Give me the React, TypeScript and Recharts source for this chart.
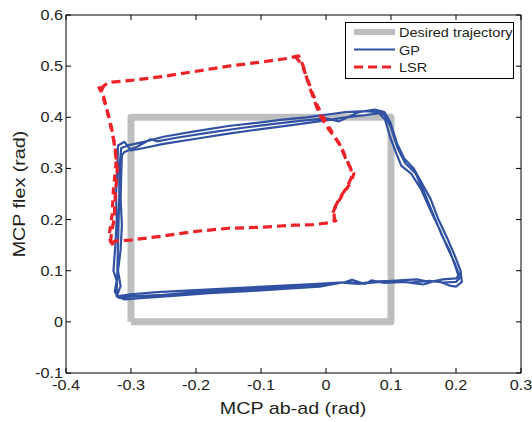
import { Legend, Line, LineChart, XAxis, YAxis } from "recharts";

type Pt = { x: number; y: number };

const xTicks = [-0.4, -0.3, -0.2, -0.1, 0, 0.1, 0.2, 0.3];
const yTicks = [-0.1, 0, 0.1, 0.2, 0.3, 0.4, 0.5, 0.6];

// desired square trajectory
const desiredPath: Pt[] = [
  { x: -0.3, y: 0 },
  { x: 0.1, y: 0 },
  { x: 0.1, y: 0.4 },
  { x: -0.3, y: 0.4 },
  { x: -0.3, y: 0 },
];

// GP loops
const gpLoop1: Pt[] = [
  { x: -0.32, y: 0.047 }, { x: -0.3, y: 0.05 }, { x: -0.25, y: 0.053 }, { x: -0.2, y: 0.058 },
  { x: -0.15, y: 0.062 }, { x: -0.1, y: 0.066 }, { x: -0.05, y: 0.07 }, { x: 0, y: 0.073 },
  { x: 0.03, y: 0.078 }, { x: 0.05, y: 0.075 }, { x: 0.08, y: 0.079 }, { x: 0.1, y: 0.08 },
  { x: 0.13, y: 0.077 }, { x: 0.16, y: 0.08 }, { x: 0.18, y: 0.077 }, { x: 0.2, y: 0.078 },
  { x: 0.205, y: 0.085 }, { x: 0.2, y: 0.105 }, { x: 0.19, y: 0.14 }, { x: 0.178, y: 0.17 },
  { x: 0.165, y: 0.21 }, { x: 0.152, y: 0.25 }, { x: 0.138, y: 0.29 }, { x: 0.122, y: 0.31 },
  { x: 0.11, y: 0.34 }, { x: 0.1, y: 0.38 }, { x: 0.09, y: 0.405 }, { x: 0.08, y: 0.41 },
  { x: 0.06, y: 0.412 }, { x: 0.03, y: 0.41 }, { x: 0, y: 0.405 }, { x: -0.03, y: 0.4 },
  { x: -0.07, y: 0.395 }, { x: -0.1, y: 0.39 }, { x: -0.15, y: 0.383 }, { x: -0.2, y: 0.373 },
  { x: -0.25, y: 0.362 }, { x: -0.28, y: 0.352 }, { x: -0.305, y: 0.345 }, { x: -0.315, y: 0.34 },
  { x: -0.318, y: 0.3 }, { x: -0.318, y: 0.25 }, { x: -0.319, y: 0.2 }, { x: -0.32, y: 0.15 },
  { x: -0.321, y: 0.1 }, { x: -0.322, y: 0.06 }, { x: -0.322, y: 0.05 },
];

const gpLoop2: Pt[] = [
  { x: -0.31, y: 0.044 }, { x: -0.28, y: 0.047 }, { x: -0.23, y: 0.051 }, { x: -0.18, y: 0.056 },
  { x: -0.12, y: 0.06 }, { x: -0.06, y: 0.065 }, { x: -0.01, y: 0.069 }, { x: 0.03, y: 0.078 },
  { x: 0.04, y: 0.082 }, { x: 0.06, y: 0.074 }, { x: 0.07, y: 0.081 }, { x: 0.09, y: 0.076 },
  { x: 0.12, y: 0.078 }, { x: 0.15, y: 0.073 }, { x: 0.17, y: 0.081 }, { x: 0.19, y: 0.071 },
  { x: 0.2, y: 0.069 }, { x: 0.209, y: 0.078 }, { x: 0.207, y: 0.1 }, { x: 0.198, y: 0.13 },
  { x: 0.186, y: 0.165 }, { x: 0.173, y: 0.2 }, { x: 0.161, y: 0.24 }, { x: 0.148, y: 0.27 },
  { x: 0.135, y: 0.3 }, { x: 0.12, y: 0.32 }, { x: 0.109, y: 0.35 }, { x: 0.099, y: 0.39 },
  { x: 0.09, y: 0.41 }, { x: 0.075, y: 0.415 }, { x: 0.05, y: 0.41 }, { x: 0.02, y: 0.392 },
  { x: 0, y: 0.398 }, { x: -0.04, y: 0.393 }, { x: -0.08, y: 0.387 }, { x: -0.13, y: 0.379 },
  { x: -0.18, y: 0.37 }, { x: -0.23, y: 0.36 }, { x: -0.26, y: 0.353 }, { x: -0.27, y: 0.357 },
  { x: -0.29, y: 0.343 }, { x: -0.31, y: 0.332 }, { x: -0.314, y: 0.326 }, { x: -0.315, y: 0.29 },
  { x: -0.316, y: 0.24 }, { x: -0.314, y: 0.19 }, { x: -0.316, y: 0.14 }, { x: -0.32, y: 0.1 },
  { x: -0.316, y: 0.07 }, { x: -0.322, y: 0.05 },
];

const gpLoop3: Pt[] = [
  { x: -0.3, y: 0.054 }, { x: -0.26, y: 0.058 }, { x: -0.2, y: 0.062 }, { x: -0.14, y: 0.066 },
  { x: -0.08, y: 0.07 }, { x: -0.02, y: 0.074 }, { x: 0.02, y: 0.077 }, { x: 0.05, y: 0.074 },
  { x: 0.1, y: 0.08 }, { x: 0.14, y: 0.083 }, { x: 0.16, y: 0.078 }, { x: 0.18, y: 0.083 },
  { x: 0.2, y: 0.085 }, { x: 0.205, y: 0.092 }, { x: 0.198, y: 0.115 }, { x: 0.187, y: 0.145 },
  { x: 0.175, y: 0.18 }, { x: 0.16, y: 0.22 }, { x: 0.146, y: 0.26 }, { x: 0.131, y: 0.29 },
  { x: 0.116, y: 0.305 }, { x: 0.108, y: 0.33 }, { x: 0.099, y: 0.36 }, { x: 0.091, y: 0.395 },
  { x: 0.082, y: 0.408 }, { x: 0.06, y: 0.404 }, { x: 0.03, y: 0.4 }, { x: 0, y: 0.394 },
  { x: -0.05, y: 0.385 }, { x: -0.1, y: 0.377 }, { x: -0.15, y: 0.368 }, { x: -0.2, y: 0.358 },
  { x: -0.25, y: 0.348 }, { x: -0.28, y: 0.34 }, { x: -0.3, y: 0.335 }, { x: -0.31, y: 0.352 },
  { x: -0.32, y: 0.345 }, { x: -0.321, y: 0.3 }, { x: -0.323, y: 0.25 }, { x: -0.322, y: 0.2 },
  { x: -0.324, y: 0.15 }, { x: -0.327, y: 0.1 }, { x: -0.322, y: 0.08 }, { x: -0.325, y: 0.06 },
  { x: -0.32, y: 0.047 },
];

// LSR trajectory: main loop plus repeated passes on the two sides
const lsrLoop: Pt[] = [
  { x: -0.348, y: 0.455 }, { x: -0.335, y: 0.468 }, { x: -0.3, y: 0.472 }, { x: -0.25, y: 0.48 },
  { x: -0.2, y: 0.49 }, { x: -0.15, y: 0.5 }, { x: -0.1, y: 0.508 }, { x: -0.06, y: 0.515 },
  { x: -0.042, y: 0.52 }, { x: -0.035, y: 0.5 }, { x: -0.028, y: 0.47 }, { x: -0.02, y: 0.44 },
  { x: -0.01, y: 0.405 }, { x: 0.005, y: 0.375 }, { x: 0.02, y: 0.35 }, { x: 0.03, y: 0.32 },
  { x: 0.038, y: 0.3 }, { x: 0.04, y: 0.285 }, { x: 0.033, y: 0.265 }, { x: 0.02, y: 0.24 },
  { x: 0.012, y: 0.22 }, { x: 0.013, y: 0.198 }, { x: 0, y: 0.193 }, { x: -0.02, y: 0.19 },
  { x: -0.05, y: 0.189 }, { x: -0.1, y: 0.185 }, { x: -0.15, y: 0.183 }, { x: -0.2, y: 0.177 },
  { x: -0.25, y: 0.168 }, { x: -0.3, y: 0.16 }, { x: -0.325, y: 0.158 }, { x: -0.332, y: 0.148 },
  { x: -0.33, y: 0.175 }, { x: -0.326, y: 0.2 }, { x: -0.324, y: 0.25 }, { x: -0.321, y: 0.3 },
  { x: -0.326, y: 0.35 }, { x: -0.33, y: 0.38 }, { x: -0.334, y: 0.4 }, { x: -0.342, y: 0.44 },
  { x: -0.35, y: 0.46 },
];

const lsrRightPass: Pt[] = [
  { x: -0.047, y: 0.518 }, { x: -0.038, y: 0.505 }, { x: -0.03, y: 0.48 }, { x: -0.023, y: 0.455 },
  { x: -0.014, y: 0.425 }, { x: -0.002, y: 0.395 }, { x: 0.012, y: 0.365 }, { x: 0.026, y: 0.335 },
  { x: 0.036, y: 0.305 }, { x: 0.043, y: 0.29 }, { x: 0.038, y: 0.272 }, { x: 0.026, y: 0.25 },
  { x: 0.017, y: 0.23 }, { x: 0.009, y: 0.21 }, { x: 0.016, y: 0.195 },
];

const lsrLeftPass: Pt[] = [
  { x: -0.328, y: 0.15 }, { x: -0.334, y: 0.165 }, { x: -0.329, y: 0.21 }, { x: -0.327, y: 0.26 },
  { x: -0.323, y: 0.31 }, { x: -0.324, y: 0.34 }, { x: -0.329, y: 0.37 }, { x: -0.338, y: 0.42 },
  { x: -0.346, y: 0.45 }, { x: -0.342, y: 0.462 },
];

const gpPath = [...gpLoop1, ...gpLoop2, ...gpLoop3];

const series = [
  { name: "Desired trajectory", data: desiredPath, color: "#bcbec0", width: 7, dash: undefined },
  { name: "GP", data: gpPath, color: "#3152a3", width: 2.2, dash: undefined },
  { name: "LSR", data: lsrLoop, color: "#ee2229", width: 3.2, dash: "9 5" },
];

const lsrExtra = [lsrRightPass, lsrLeftPass];

const FONT = "'Liberation Sans', Arial, Helvetica, sans-serif";
const INK = "#231f20";

function StretchText({ x, y, anchor, size, rotate, children }: any) {
  return (
    <text
      transform={`translate(${x},${y})${rotate ? " rotate(-90)" : ""} scale(1.16,1)`}
      textAnchor={anchor}
      fontSize={size}
      fontFamily={FONT}
      fill={INK}
    >
      {children}
    </text>
  );
}

const fmt = (v: number) => String(v);

const BottomTick = ({ x, y, payload }: any) => (
  <g>
    <line x1={x} y1={y} x2={x} y2={y - 5} stroke="#000" />
    <StretchText x={x} y={y + 17} anchor="middle" size={14}>
      {fmt(payload.value)}
    </StretchText>
  </g>
);

const TopTick = ({ x, y }: any) => <line x1={x} y1={y} x2={x} y2={y + 5} stroke="#000" />;

const LeftTick = ({ x, y, payload }: any) => (
  <g>
    <line x1={x} y1={y} x2={x + 5} y2={y} stroke="#000" />
    <StretchText x={x - 3} y={y + 5} anchor="end" size={14}>
      {fmt(payload.value)}
    </StretchText>
  </g>
);

const RightTick = ({ x, y }: any) => <line x1={x} y1={y} x2={x - 5} y2={y} stroke="#000" />;

const LegendBox = () => (
  <svg width={169} height={57} style={{ display: "block" }}>
    <rect x={0.5} y={0.5} width={168} height={56} fill="#fff" stroke="#000" />
    {series.map((s, i) => {
      const ry = 10 + i * 17.5;
      return (
        <g key={s.name}>
          <line x1={9} x2={50} y1={ry} y2={ry} stroke={s.color} strokeWidth={s.width === 7 ? 6 : s.width} strokeDasharray={s.dash} />
          <StretchText x={54} y={ry + 5} anchor="start" size={12.5}>
            {s.name}
          </StretchText>
        </g>
      );
    })}
  </svg>
);

export default function App() {
  const lsr = series[2];
  return (
    <div style={{ position: "absolute", left: 0, top: 0, width: 532, height: 422, background: "#fff" }}>
      <LineChart width={532} height={422} margin={{ top: 14, right: 10, bottom: 48, left: 65 }}>
        <XAxis
          xAxisId="b"
          dataKey="x"
          type="number"
          domain={[-0.4, 0.3]}
          ticks={xTicks}
          allowDataOverflow
          height={1}
          tickSize={0}
          tickMargin={0}
          interval={0}
          tick={<BottomTick />}
          axisLine={{ stroke: "#000" }}
        />
        <XAxis
          xAxisId="t"
          orientation="top"
          dataKey="x"
          type="number"
          domain={[-0.4, 0.3]}
          ticks={xTicks}
          allowDataOverflow
          height={1}
          tickSize={0}
          tickMargin={0}
          interval={0}
          tick={<TopTick />}
          axisLine={{ stroke: "#000" }}
        />
        <YAxis
          yAxisId="l"
          type="number"
          domain={[-0.1, 0.6]}
          ticks={yTicks}
          allowDataOverflow
          width={1}
          tickSize={0}
          tickMargin={0}
          interval={0}
          tick={<LeftTick />}
          axisLine={{ stroke: "#000" }}
        />
        <YAxis
          yAxisId="r"
          orientation="right"
          type="number"
          domain={[-0.1, 0.6]}
          ticks={yTicks}
          allowDataOverflow
          width={1}
          tickSize={0}
          tickMargin={0}
          interval={0}
          tick={<RightTick />}
          axisLine={{ stroke: "#000" }}
        />
        {series.map((s) => (
          <Line
            key={s.name}
            name={s.name}
            data={s.data}
            dataKey="y"
            xAxisId="b"
            yAxisId="l"
            type="linear"
            stroke={s.color}
            strokeWidth={s.width}
            strokeDasharray={s.dash}
            strokeLinejoin="round"
            dot={false}
            activeDot={false}
            isAnimationActive={false}
          />
        ))}
        {lsrExtra.map((d, i) => (
          <Line
            key={`lsr-extra-${i}`}
            name="LSR"
            legendType="none"
            data={d}
            dataKey="y"
            xAxisId="b"
            yAxisId="l"
            type="linear"
            stroke={lsr.color}
            strokeWidth={lsr.width}
            strokeDasharray="7 6"
            strokeLinejoin="round"
            dot={false}
            activeDot={false}
            isAnimationActive={false}
          />
        ))}
        <Legend
          layout="vertical"
          align="center"
          verticalAlign="middle"
          wrapperStyle={{ left: 345, top: 22, width: 169, height: 57 }}
          content={<LegendBox />}
        />
      </LineChart>
      <svg width={532} height={422} style={{ position: "absolute", left: 0, top: 0, pointerEvents: "none" }}>
        <StretchText x={293} y={414} anchor="middle" size={17}>
          MCP ab-ad (rad)
        </StretchText>
        <StretchText x={25} y={194} anchor="middle" size={17} rotate>
          MCP flex (rad)
        </StretchText>
      </svg>
    </div>
  );
}
